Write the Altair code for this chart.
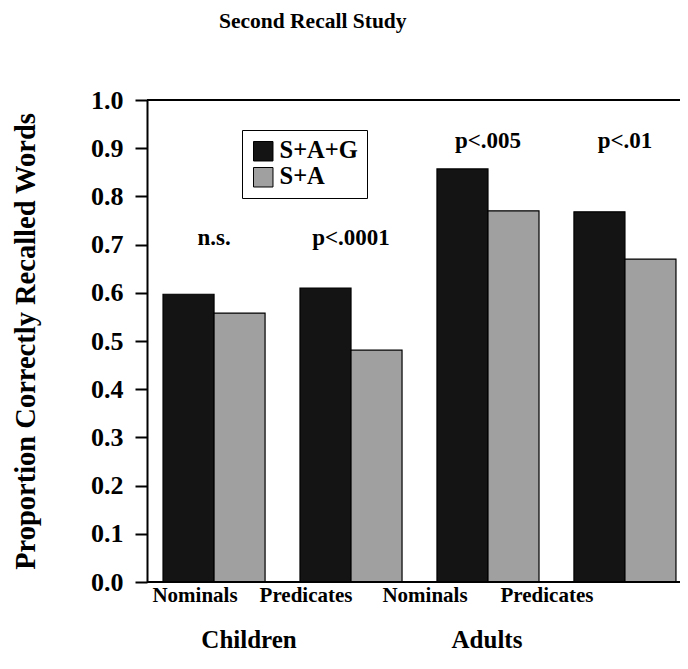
import altair as alt
import pandas as pd

# ---- data ----
conditions = ["Children Nominals", "Children Predicates", "Adults Nominals", "Adults Predicates"]
tick_labels = ["Nominals", "Predicates", "Nominals", "Predicates"]
series_names = ["S+A+G", "S+A"]
sag_values = [0.597, 0.610, 0.857, 0.768]
sa_values = [0.558, 0.481, 0.770, 0.670]
sig_labels = ["n.s.", "p<.0001", "p<.005", "p<.01"]
sig_y = [0.70, 0.70, 0.90, 0.90]
group_names = ["Children", "Adults"]
group_anchor = ["Children Nominals", "Adults Nominals"]

rows = []
for c, a, b in zip(conditions, sag_values, sa_values):
    rows.append({"cond": c, "series": series_names[0], "value": a})
    rows.append({"cond": c, "series": series_names[1], "value": b})
df = pd.DataFrame(rows)
sig_df = pd.DataFrame({"cond": conditions, "label": sig_labels, "y": sig_y})
lab_df = pd.DataFrame({"cond": conditions, "label": tick_labels})
grp_df = pd.DataFrame({"cond": group_anchor, "label": group_names})

FONT = "Liberation Serif"
W, H = 533, 482

# band scale runs slightly past the visible plot edge, as in the (cropped) original
xscale = alt.Scale(domain=conditions, range=[0, 545], paddingInner=0.255, paddingOuter=0.117)
yscale = alt.Scale(domain=[0, 1])

bars = alt.Chart(df).mark_bar(stroke="black", strokeWidth=1.2).encode(
    x=alt.X("cond:N", sort=conditions, scale=xscale, axis=None),
    xOffset=alt.XOffset("series:N", sort=series_names,
                        scale=alt.Scale(domain=series_names, paddingInner=0, paddingOuter=0)),
    y=alt.Y("value:Q", scale=yscale,
            axis=alt.Axis(values=[i / 10 for i in range(11)], format=".1f", title="Proportion Correctly Recalled Words",
                          grid=False, domainColor="black", domainWidth=2, tickColor="black", tickWidth=2,
                          tickSize=12, labelFont=FONT, labelFontWeight="bold", labelFontSize=26,
                          labelColor="black", labelPadding=12, titleFont=FONT, titleFontWeight="bold",
                          titleFontSize=28.5, titleColor="black", titlePadding=50)),
    color=alt.Color("series:N", sort=series_names,
                    scale=alt.Scale(domain=series_names, range=["#141414", "#a0a0a0"]),
                    legend=alt.Legend(title=None, orient="none", legendX=95, legendY=30,
                                      strokeColor="black", padding=9,
                                      symbolType="square", symbolSize=380, symbolStrokeColor="black",
                                      symbolStrokeWidth=1, rowPadding=1, labelFont=FONT,
                                      labelFontWeight="bold", labelFontSize=24.5, labelColor="black",
                                      labelOffset=4, labelExpr="datum.label + '  '", fillColor="white")),
)

top_line = alt.Chart(pd.DataFrame({"v": [1.0]})).mark_rule(color="black", strokeWidth=2).encode(
    y=alt.Y("v:Q", scale=yscale)
)

bottom_line = alt.Chart(pd.DataFrame({"v": [0.0]})).mark_rule(color="black", strokeWidth=2).encode(
    y=alt.Y("v:Q", scale=yscale)
)

sig = alt.Chart(sig_df).mark_text(font=FONT, fontWeight="bold", fontSize=23, color="black",
                                  baseline="alphabetic").encode(
    x=alt.X("cond:N", sort=conditions, scale=xscale, axis=None),
    y=alt.Y("y:Q", scale=yscale),
    text="label:N",
)

layers = [bars, top_line, bottom_line, sig]

label_dx = [-19, -45, -63, -78]
for i, dx in enumerate(label_dx):
    layers.append(
        alt.Chart(lab_df.iloc[[i]]).mark_text(font=FONT, fontWeight="bold", fontSize=21, color="black",
                                              dx=dx, baseline="alphabetic").encode(
            x=alt.X("cond:N", sort=conditions, scale=xscale, axis=None),
            y=alt.value(H + 20),
            text="label:N",
        )
    )

grp_dx = [35, -1]
for i, dx in enumerate(grp_dx):
    layers.append(
        alt.Chart(grp_df.iloc[[i]]).mark_text(font=FONT, fontWeight="bold", fontSize=25, color="black",
                                              dx=dx, baseline="alphabetic").encode(
            x=alt.X("cond:N", sort=conditions, scale=xscale, axis=None),
            y=alt.value(H + 66),
            text="label:N",
        )
    )

chart = alt.layer(*layers).properties(
    width=W, height=H,
    title=alt.TitleParams("Second Recall Study", font=FONT, fontWeight="bold", fontSize=21.5, color="black",
                          anchor="start", frame="group", dx=72, offset=55),
    autosize=alt.AutoSizeParams(type="none"),
    padding={"left": 139, "top": 92, "right": 0, "bottom": 72},
).configure_view(stroke=None).configure_legend(strokeWidth=2).configure(background="white")

chart.save("out.html", embed_options={"renderer": "svg", "actions": False})
